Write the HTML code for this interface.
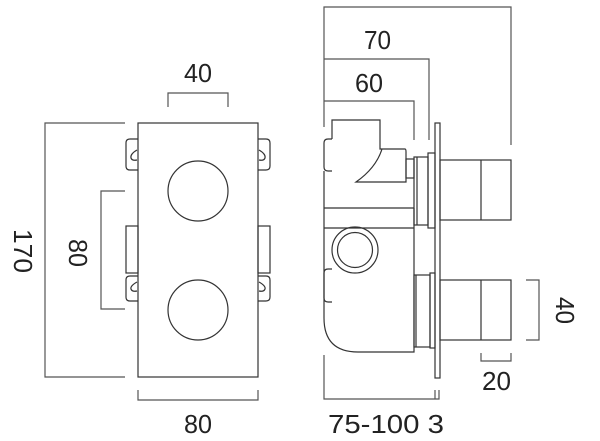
<!DOCTYPE html>
<html><head><meta charset="utf-8"><style>
html,body{margin:0;padding:0;background:#fff;}
svg{display:block}
text{font-family:"Liberation Sans",sans-serif;font-size:26px;fill:#222;}
</style></head><body>
<svg width="600" height="441" viewBox="0 0 600 441" xmlns="http://www.w3.org/2000/svg">
<g fill="none" stroke="#333" stroke-width="1.2">
<rect x="138" y="123" width="120" height="254"/>
<circle cx="198" cy="191" r="30"/>
<circle cx="198" cy="310" r="30"/>
<path d="M138 139 H130 Q126 139 126 143 V166 Q126 170 130 170 H138"/>
<path d="M137 150 Q130 154 131 158 Q132 161 137 160"/>
<path d="M258 139 H266 Q270 139 270 143 V166 Q270 170 266 170 H258"/>
<path d="M259 150 Q266 154 265 158 Q264 161 259 160"/>
<rect x="126" y="226" width="12" height="47"/>
<rect x="258" y="226" width="12" height="47"/>
<path d="M138 276 H130 Q126 276 126 280 V297 Q126 301 130 301 H138"/>
<path d="M137 282 Q130 286 131 289 Q132 292 137 291"/>
<path d="M258 276 H266 Q270 276 270 280 V297 Q270 301 266 301 H258"/>
<path d="M259 282 Q266 286 265 289 Q264 292 259 291"/>
<path d="M168 107 V93 H228 V107" stroke="#555"/>
<path d="M125 123 H45 V377 H125" stroke="#555"/>
<path d="M125 191 H101 V309 H125" stroke="#555"/>
<path d="M138 390 V400 H258 V390" stroke="#555"/>
<path d="M324 127 V7 H511 V145" stroke="#555"/>
<path d="M324 59 H429 V140" stroke="#555"/>
<path d="M324 101 H414 V140" stroke="#555"/>
<path d="M332 139 V120 H380 V149 H405 Q406 149 406 152 V182 H356 Q376 168 382 149"/>
<rect x="406" y="159" width="8" height="19"/>
<path d="M332 139 H328 Q324 139 324 143 V167 Q324 171 328 171 H332"/>
<path d="M324 171 V318 Q324 352 358 352 H414 V208 M324 208 H414 M324 228 H414"/>
<path d="M332 269 H328 Q324 269 324 273 V298 Q324 302 328 302 H332"/>
<circle cx="355" cy="250" r="23"/>
<circle cx="355" cy="250" r="17.5"/>
<rect x="414" y="157" width="14" height="68"/>
<line x1="417" y1="157" x2="417" y2="225"/>
<rect x="428" y="153" width="7" height="75"/>
<rect x="414" y="275" width="16" height="72"/>
<line x1="416" y1="275" x2="416" y2="347"/>
<rect x="430" y="273" width="5" height="75"/>
<rect x="435" y="123" width="5" height="255"/>
<rect x="440" y="160" width="71" height="60"/>
<line x1="481" y1="160" x2="481" y2="220"/>
<rect x="440" y="280" width="71" height="60"/>
<line x1="481" y1="280" x2="481" y2="340"/>
<path d="M526 280 H539 V340 H526" stroke="#555"/>
<path d="M481 353 V361 H511 V353" stroke="#555"/>
<path d="M324 355 V399 H439 V390 M435 390 V399" stroke="#555"/>
</g>
<text x="184" y="82" textLength="28" lengthAdjust="spacingAndGlyphs">40</text>
<text x="184" y="433" textLength="28" lengthAdjust="spacingAndGlyphs">80</text>
<text transform="translate(14,229) rotate(90)" textLength="44" lengthAdjust="spacingAndGlyphs">170</text>
<text transform="translate(69,239) rotate(90)" textLength="28" lengthAdjust="spacingAndGlyphs">80</text>
<text x="364" y="49" textLength="27" lengthAdjust="spacingAndGlyphs">70</text>
<text x="355" y="92" textLength="28" lengthAdjust="spacingAndGlyphs">60</text>
<text transform="translate(556,297) rotate(90)" textLength="27" lengthAdjust="spacingAndGlyphs">40</text>
<text x="482" y="390" textLength="29" lengthAdjust="spacingAndGlyphs">20</text>
<text x="328" y="433" textLength="116" lengthAdjust="spacingAndGlyphs">75-100 3</text>
</svg>
</body></html>
